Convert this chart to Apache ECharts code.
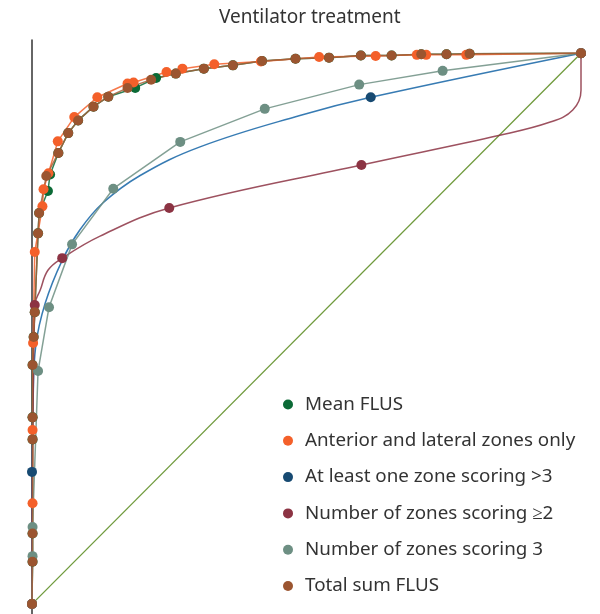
<!DOCTYPE html>
<html>
<head>
<meta charset="utf-8">
<script src="https://cdn.jsdelivr.net/npm/echarts@6/dist/echarts.min.js"></script>
<style>html,body{margin:0;padding:0;background:#fff}#c{width:600px;height:614px}</style>
</head>
<body>
<div id="c"></div>
<script>
// [false positive rate, true positive rate]
var meanFlus = [[0,0],[0.001,0.077],[0.001,0.128],[0.001,0.299],[0.001,0.339],[0.001,0.434],[0.003,0.485],[0.005,0.530],[0.011,0.673],[0.013,0.710],[0.029,0.750],[0.033,0.780],[0.048,0.819],[0.066,0.855],[0.084,0.878],[0.112,0.903],[0.139,0.921],[0.188,0.937],[0.226,0.955],[0.262,0.963],[0.313,0.972],[0.366,0.978],[0.419,0.986],[0.480,0.990],[0.541,0.992],[0.599,0.996],[0.655,0.996],[0.709,0.998],[0.755,0.998],[0.797,0.999],[1,1]];
var anteriorLateral = [[0,0],[0.001,0.183],[0.001,0.316],[0.002,0.474],[0.005,0.639],[0.019,0.722],[0.021,0.753],[0.030,0.782],[0.047,0.840],[0.077,0.884],[0.119,0.920],[0.174,0.945],[0.185,0.947],[0.245,0.966],[0.274,0.972],[0.332,0.980],[0.417,0.985],[0.523,0.993],[0.626,0.995],[0.701,0.997],[0.718,0.997],[0.791,0.997],[1,1]];
// marked points and unmarked points along the drawn curve
var atLeastOneMarked = [[0,0],[0,0.240],[0.617,0.920],[1,1]];
var atLeastOneCurve = [[0.002,0.370],[0.007,0.470],[0.024,0.546],[0.055,0.624],[0.087,0.679],[0.129,0.728],[0.197,0.778],[0.306,0.830],[0.488,0.887]];
var zones2Marked = [[0,0],[0.005,0.543],[0.055,0.628],[0.250,0.719],[0.600,0.797],[1,1]];
var zones2Curve = [[0.015,0.570],[0.029,0.606],[0.124,0.668],[0.852,0.851],[0.944,0.875],[0.985,0.897],[1,0.933]];
var zones3 = [[0,0],[0.001,0.087],[0.001,0.140],[0.011,0.423],[0.031,0.539],[0.073,0.653],[0.148,0.754],[0.270,0.839],[0.424,0.899],[0.596,0.943],[0.748,0.968],[1,1]];
var totalSum = [[0,0],[0.001,0.077],[0.001,0.128],[0.001,0.299],[0.001,0.339],[0.001,0.434],[0.003,0.485],[0.005,0.530],[0.011,0.673],[0.013,0.710],[0.026,0.777],[0.048,0.819],[0.066,0.855],[0.084,0.878],[0.112,0.903],[0.139,0.921],[0.174,0.937],[0.217,0.952],[0.262,0.963],[0.313,0.972],[0.366,0.978],[0.419,0.986],[0.480,0.990],[0.541,0.992],[0.599,0.996],[0.655,0.996],[0.709,0.998],[0.755,0.998],[0.797,0.999],[1,1]];
var reference = [[0,0],[1,1]];
var names = ['Mean FLUS','Anterior and lateral zones only','At least one zone scoring >3','Number of zones scoring \u22652','Number of zones scoring 3','Total sum FLUS'];

function merge(marked, curve){
  var all = marked.map(function(p){return {value:p};}).concat(curve.map(function(p){return {value:p, symbol:'none'};}));
  all.sort(function(a,b){return (a.value[0]-b.value[0]) || (a.value[1]-b.value[1]);});
  return all;
}
var FONT = 'Noto Sans';
function ser(name, data, mColor, lColor, smooth){
  return {name:name, type:'line', data:data, symbol:'circle', symbolSize:10, smooth:smooth||false, clip:false,
    itemStyle:{color:mColor}, lineStyle:{color:lColor, width:1.5, opacity:0.85}, emphasis:{disabled:true}};
}
var chart = echarts.init(document.getElementById('c'));
chart.setOption({
  animation:false,
  title:{text:'Ventilator treatment', left:214, top:3, textStyle:{fontFamily:FONT, fontSize:19, fontWeight:'normal', color:'#333'}},
  grid:{left:32, right:19, top:40, bottom:0},
  xAxis:{type:'value', min:0, max:1, show:false},
  yAxis:{type:'value', min:-0.018, max:1.024, offset:15, axisLine:{show:true, lineStyle:{color:'#333', width:1.5}}, axisTick:{show:false}, axisLabel:{show:false}, splitLine:{show:false}},
  legend:{orient:'vertical', left:278, top:390, itemWidth:24, itemHeight:10, itemGap:17.3, icon:'circle',
    data:names, textStyle:{fontFamily:FONT, fontSize:18.8, color:'#333', lineHeight:18}},
  series:[
    {name:'ref', type:'line', data:reference, symbol:'none', lineStyle:{color:'#6f9a3c', width:1.3}, silent:true},
    ser(names[0], meanFlus, '#0b6a36', '#0b6a36'),
    ser(names[1], anteriorLateral, '#f4602a', '#f4602a'),
    ser(names[2], merge(atLeastOneMarked, atLeastOneCurve), '#174a72', '#1464a6', 0.4),
    ser(names[3], merge(zones2Marked, zones2Curve), '#8c3343', '#8c3343', 0.4),
    ser(names[4], zones3, '#6d8f83', '#6d8f83'),
    ser(names[5], totalSum, '#9b5530', '#a5603a')
  ]
});
</script>
</body>
</html>
